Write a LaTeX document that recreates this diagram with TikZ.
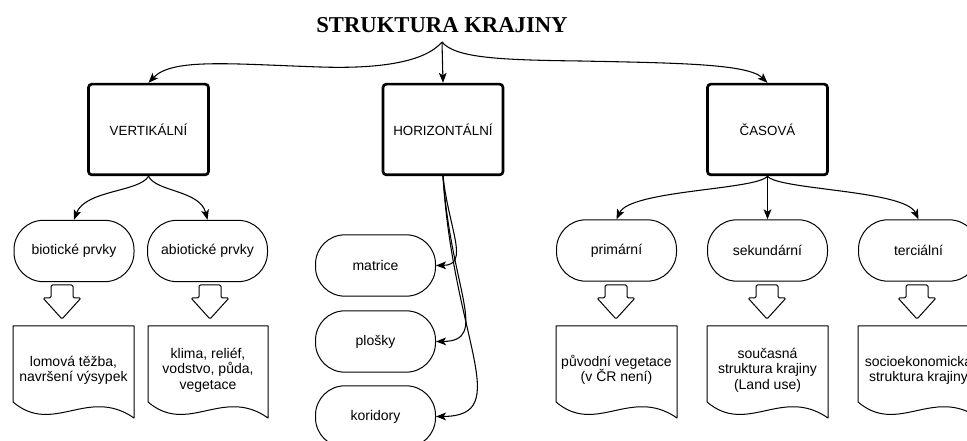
\documentclass[tikz,border=0pt]{standalone}
\usepackage{fontspec}
\setmainfont{Liberation Sans}
\newfontfamily\titlefont{Liberation Serif}
\usetikzlibrary{arrows.meta, positioning}

\begin{document}
\begin{tikzpicture}[x=0.75pt,y=0.75pt,yscale=-1,xscale=1,
  mainbox/.style={draw, line width=2pt, rounded corners=2.5pt, inner sep=0pt,
    minimum width=90pt, minimum height=68pt, font=\fontsize{10}{12}\selectfont},
  termbox/.style={draw, line width=0.75pt, rounded corners=22pt, inner sep=0pt,
    minimum width=90pt, minimum height=46pt, font=\fontsize{10.5}{12}\selectfont},
  doctext/.style={align=center, inner sep=0.75pt, font=\fontsize{10.5}{11.5}\selectfont},
  docline/.style={line width=0.75pt, line join=round},
  link/.style={line width=0.8pt, -{Stealth[length=7.5pt, width=5.8pt, inset=1.8pt]}}]
\useasboundingbox (0,0) rectangle (967,441);
\clip (0,0) rectangle (967,441);

% Title
\draw (442,33) node [anchor=base, inner sep=0pt, font=\titlefont\bfseries\fontsize{17}{20}\selectfont] (title) {STRUKTURA KRAJINY};
\coordinate (root) at (442,42);
\coordinate (wave) at (320,67);
\coordinate (wave2) at (580,61);

% Main boxes
\draw (148.5,129.5) node [mainbox] (vert) {VERTIKÁLNÍ};
\draw (443,129.5) node [mainbox] (horiz) {HORIZONTÁLNÍ};
\draw (767.5,129.5) node [mainbox] (cas) {ČASOVÁ};

% Terminators
\draw (74,251) node [termbox] (biot) {biotické prvky};
\draw (207.5,251) node [termbox] (abiot) {abiotické prvky};
\draw (375.5,265.5) node [termbox] (matrice) {matrice};
\draw (375.5,341.5) node [termbox] (plosky) {plošky};
\draw (375.5,416.5) node [termbox] (koridory) {koridory};
\draw (616.5,250.5) node [termbox] (prim) {primární};
\draw (767.5,250.5) node [termbox] (sek) {sekundární};
\draw (918.5,250.5) node [termbox] (terc) {terciální};

%Curve Lines
\draw [link] (root) .. controls (425,62) and (380,69) .. (wave) .. controls (230,64) and (172,58) .. (vert.north) ;
\draw [link] (root) -- (horiz.north) ;
\draw [link] (root) .. controls (455,58) and (500,60) .. (wave2) .. controls (680,63) and (748,64) .. (cas.north) ;
%Curve Lines
\draw [link] (vert.south) .. controls (140,192) and (85,190) .. (biot.north) ;
\draw [link] (vert.south) .. controls (156,192) and (200,190) .. (abiot.north) ;
%Curve Lines
\draw [link] (horiz.south) .. controls (449,230) and (470,265) .. (matrice.east) ;
\draw [link] (horiz.south) .. controls (451,290) and (490,341) .. (plosky.east) ;
\draw [link] (horiz.south) .. controls (453,340) and (515,416) .. (koridory.east) ;
%Curve Lines
\draw [link] (cas.south) .. controls (757,190) and (630,190) .. (prim.north) ;
\draw [link] (cas.south) -- (sek.north) ;
\draw [link] (cas.south) .. controls (778,190) and (905,190) .. (terc.north) ;

%Shape: Down Arrow
\draw [docline, rounded corners=1pt] (51,285) -- (73,285) -- (73,298) -- (81,298) -- (62,319) -- (43,298) -- (51,298) -- cycle ;
\draw [docline, rounded corners=1pt] (199,285) -- (221,285) -- (221,298) -- (229,298) -- (210,319) -- (191,298) -- (199,298) -- cycle ;
\draw [docline, rounded corners=1pt] (605,285) -- (627,285) -- (627,298) -- (635,298) -- (616,319) -- (597,298) -- (605,298) -- cycle ;
\draw [docline, rounded corners=1pt] (756,285) -- (778,285) -- (778,298) -- (786,298) -- (767,319) -- (748,298) -- (756,298) -- cycle ;
\draw [docline, rounded corners=1pt] (906,285) -- (928,285) -- (928,298) -- (936,298) -- (917,319) -- (898,298) -- (906,298) -- cycle ;

%Shape: Document
\draw [docline] (13,402) -- (13,326) -- (134,326) -- (134,418) .. controls (88,386) and (53,436) .. (13,402) -- cycle ;
\draw [docline] (148,402) -- (148,326) -- (268,326) -- (268,418) .. controls (223,386) and (188,436) .. (148,402) -- cycle ;
\draw [docline] (556,402) -- (556,326) -- (677,326) -- (677,418) .. controls (631,386) and (596,436) .. (556,402) -- cycle ;
\draw [docline] (707,402) -- (707,326) -- (828,326) -- (828,418) .. controls (782,386) and (747,436) .. (707,402) -- cycle ;
\draw [docline] (858,402) -- (858,326) -- (979,326) -- (979,418) .. controls (933,386) and (898,436) .. (858,402) -- cycle ;

% Text Node
\draw (73.5,370) node [doctext] (biottext) {lomová těžba,\\navršení výsypek};
% Text Node
\draw (208,370) node [doctext] (abiottext) {klima, reliéf,\\vodstvo, půda,\\vegetace};
% Text Node
\draw (616.5,370) node [doctext] (primtext) {původní vegetace\\(v ČR není)};
% Text Node
\draw (767.5,370) node [doctext] (sektext) {současná\\struktura krajiny\\(Land use)};
% Text Node
\draw (918.5,370) node [doctext] (terctext) {socioekonomická\\struktura krajiny};

\end{tikzpicture}
\end{document}
